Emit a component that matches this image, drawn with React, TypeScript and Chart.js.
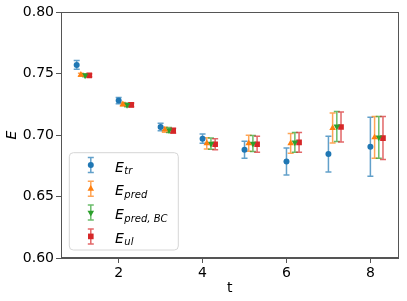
import React, { useEffect, useRef } from "react";
import { Chart, registerables } from "chart.js";

Chart.register(...registerables);

// ---- data ----
const tValues = [1, 2, 3, 4, 5, 6, 7, 8];
const xOffsets = [0, 0.1, 0.2, 0.3];

const eTr = [0.757, 0.728, 0.7065, 0.697, 0.688, 0.6785, 0.6845, 0.6905];
const eTrErr = [0.0035, 0.0025, 0.003, 0.0038, 0.007, 0.011, 0.0145, 0.024];

const ePred = [0.749, 0.725, 0.7043, 0.6932, 0.6932, 0.6932, 0.7056, 0.698];
const ePredErr = [0.0012, 0.0015, 0.002, 0.0045, 0.0065, 0.0081, 0.0122, 0.017];

const ePredBC = [0.7485, 0.7245, 0.704, 0.693, 0.693, 0.694, 0.707, 0.698];
const ePredBCErr = [0.0012, 0.0015, 0.002, 0.0045, 0.0065, 0.008, 0.0122, 0.017];

const eUl = [0.7485, 0.7245, 0.7035, 0.6925, 0.6925, 0.694, 0.7065, 0.6975];
const eUlErr = [0.0012, 0.0015, 0.002, 0.0045, 0.0065, 0.008, 0.0122, 0.0175];

const seriesNames = [
  ["E", "tr"],
  ["E", "pred"],
  ["E", "pred, BC"],
  ["E", "ul"],
];
const seriesColors = ["#1f77b4", "#ff7f0e", "#2ca02c", "#d62728"];
const errColors = [
  "rgba(31,119,180,0.7)",
  "rgba(255,127,14,0.7)",
  "rgba(44,160,44,0.7)",
  "rgba(214,39,40,0.7)",
];
const pointStyles = ["circle", "triangle", "triangle", "rect"];
const pointRotations = [0, 0, 180, 0];
const pointRadii = [3, 3.8, 3.8, 4];

const seriesValues = [eTr, ePred, ePredBC, eUl];
const seriesErrors = [eTrErr, ePredErr, ePredBCErr, eUlErr];

const xTicks = [2, 4, 6, 8];
const xTickLabels = ["2", "4", "6", "8"];
const yTicks = [0.6, 0.65, 0.7, 0.75, 0.8];
const yTickLabels = ["0.60", "0.65", "0.70", "0.75", "0.80"];

const FONT = '"DejaVu Sans", sans-serif';

function drawMarker(ctx: CanvasRenderingContext2D, style: string, rot: number, r: number, x: number, y: number) {
  ctx.beginPath();
  if (style === "circle") {
    ctx.arc(x, y, r, 0, Math.PI * 2);
  } else if (style === "rect") {
    const s = r * Math.SQRT1_2;
    ctx.rect(x - s, y - s, 2 * s, 2 * s);
  } else {
    const dir = rot === 180 ? -1 : 1;
    const h = r * 1.5;
    const w = r * Math.sqrt(3) / 2;
    ctx.moveTo(x, y - dir * h * 0.667);
    ctx.lineTo(x - w, y + dir * h * 0.333);
    ctx.lineTo(x + w, y + dir * h * 0.333);
    ctx.closePath();
  }
  ctx.fill();
}

const errorBarPlugin = {
  id: "errorBars",
  beforeDatasetsDraw(chart: any) {
    const ctx = chart.ctx;
    const xs = chart.scales.x;
    const ys = chart.scales.y;
    ctx.save();
    seriesValues.forEach((vals, si) => {
      ctx.strokeStyle = errColors[si];
      ctx.lineWidth = 1.5;
      vals.forEach((v, i) => {
        const e = seriesErrors[si][i];
        const px = xs.getPixelForValue(tValues[i] + xOffsets[si]);
        const pTop = ys.getPixelForValue(v + e);
        const pBot = ys.getPixelForValue(v - e);
        ctx.beginPath();
        ctx.moveTo(px, pTop);
        ctx.lineTo(px, pBot);
        ctx.moveTo(px - 3, pTop);
        ctx.lineTo(px + 3, pTop);
        ctx.moveTo(px - 3, pBot);
        ctx.lineTo(px + 3, pBot);
        ctx.stroke();
      });
    });
    ctx.restore();
  },
  afterDraw(chart: any) {
    const ctx = chart.ctx;
    const a = chart.chartArea;
    ctx.save();
    // frame
    ctx.strokeStyle = "#555";
    ctx.lineWidth = 1;
    ctx.strokeRect(Math.round(a.left) + 0.5, Math.round(a.top) + 0.5, Math.round(a.right - a.left) - 1, Math.round(a.bottom - a.top) - 1);

    // legend
    const bx = a.left + 8.3;
    const bw = 109;
    const bh = 97.3;
    const by = a.bottom - 8 - bh;
    const rr = 4;
    ctx.beginPath();
    ctx.moveTo(bx + rr, by);
    ctx.lineTo(bx + bw - rr, by);
    ctx.quadraticCurveTo(bx + bw, by, bx + bw, by + rr);
    ctx.lineTo(bx + bw, by + bh - rr);
    ctx.quadraticCurveTo(bx + bw, by + bh, bx + bw - rr, by + bh);
    ctx.lineTo(bx + rr, by + bh);
    ctx.quadraticCurveTo(bx, by + bh, bx, by + bh - rr);
    ctx.lineTo(bx, by + rr);
    ctx.quadraticCurveTo(bx, by, bx + rr, by);
    ctx.closePath();
    ctx.fillStyle = "rgba(255,255,255,0.8)";
    ctx.fill();
    ctx.strokeStyle = "#d6d6d6";
    ctx.stroke();

    seriesNames.forEach((nm, si) => {
      const cy = by + 12.3 + si * 23.8;
      const mx = bx + 21.5;
      ctx.strokeStyle = errColors[si];
      ctx.lineWidth = 1.5;
      ctx.beginPath();
      ctx.moveTo(mx, cy - 7.5);
      ctx.lineTo(mx, cy + 7.5);
      ctx.moveTo(mx - 3, cy - 7.5);
      ctx.lineTo(mx + 3, cy - 7.5);
      ctx.moveTo(mx - 3, cy + 7.5);
      ctx.lineTo(mx + 3, cy + 7.5);
      ctx.stroke();
      ctx.fillStyle = seriesColors[si];
      drawMarker(ctx, pointStyles[si], pointRotations[si], pointRadii[si], mx, cy);

      const tx = bx + 45.7;
      const base = cy + 6.5;
      ctx.fillStyle = "#000";
      ctx.textBaseline = "alphabetic";
      ctx.textAlign = "left";
      ctx.font = "italic 14px " + FONT;
      ctx.fillText(nm[0], tx, base);
      const w = ctx.measureText(nm[0]).width;
      ctx.font = "italic 10px " + FONT;
      ctx.fillText(nm[1], tx + w + 0.5, base + 2.5);
    });
    ctx.restore();
  },
};

export default function App() {
  const ref = useRef<HTMLCanvasElement | null>(null);
  useEffect(() => {
    if (!ref.current) return;
    const datasets = seriesValues.map((vals, si) => ({
      label: seriesNames[si].join("_"),
      data: vals.map((v, i) => ({ x: tValues[i] + xOffsets[si], y: v })),
      backgroundColor: seriesColors[si],
      borderColor: seriesColors[si],
      borderWidth: 0,
      pointStyle: pointStyles[si] as any,
      pointRotation: pointRotations[si],
      pointRadius: pointRadii[si],
      pointHoverRadius: pointRadii[si],
      showLine: false,
    }));
    const chart = new Chart(ref.current, {
      type: "scatter",
      data: { datasets },
      options: {
        animation: false,
        responsive: false,
        events: [],
        layout: { padding: { left: 0, top: 12, right: 8.5, bottom: 0 } },
        plugins: { legend: { display: false }, tooltip: { enabled: false } },
        scales: {
          x: {
            type: "linear",
            min: 0.626,
            max: 8.67,
            afterBuildTicks: (s: any) => {
              s.ticks = xTicks.map((v) => ({ value: v }));
            },
            afterFit: (s: any) => {
              s.height = 43;
            },
            ticks: {
              callback: (_v: any, i: number) => xTickLabels[i],
              font: { family: FONT, size: 14 },
              color: "#000",
              padding: 2,
              maxRotation: 0,
            },
            grid: { drawOnChartArea: false, drawTicks: true, tickLength: 5, color: "#555" },
            border: { display: true, color: "#555" },
            title: {
              display: true,
              text: "t",
              font: { family: FONT, size: 14, lineHeight: 1.2 },
              color: "#000",
              padding: { top: 0, bottom: 4.6 },
            },
          },
          y: {
            type: "linear",
            min: 0.6,
            max: 0.8,
            afterBuildTicks: (s: any) => {
              s.ticks = yTicks.map((v) => ({ value: v }));
            },
            afterFit: (s: any) => {
              s.width = 61;
            },
            ticks: {
              callback: (_v: any, i: number) => yTickLabels[i],
              font: { family: FONT, size: 14 },
              color: "#000",
              padding: 2,
            },
            grid: { drawOnChartArea: false, drawTicks: true, tickLength: 5, color: "#555" },
            border: { display: true, color: "#555" },
            title: {
              display: true,
              text: "E",
              font: { family: FONT, size: 14, style: "italic", lineHeight: 1.2 },
              color: "#000",
              padding: { top: 3.6, bottom: 0 },
            },
          },
        },
      },
      plugins: [errorBarPlugin],
    });
    return () => chart.destroy();
  }, []);
  return (
    <div style={{ position: "fixed", left: 0, top: 0, width: 407, height: 301, background: "#fff" }}>
      <canvas ref={ref} width={407} height={301} style={{ width: 407, height: 301, display: "block" }} />
    </div>
  );
}
